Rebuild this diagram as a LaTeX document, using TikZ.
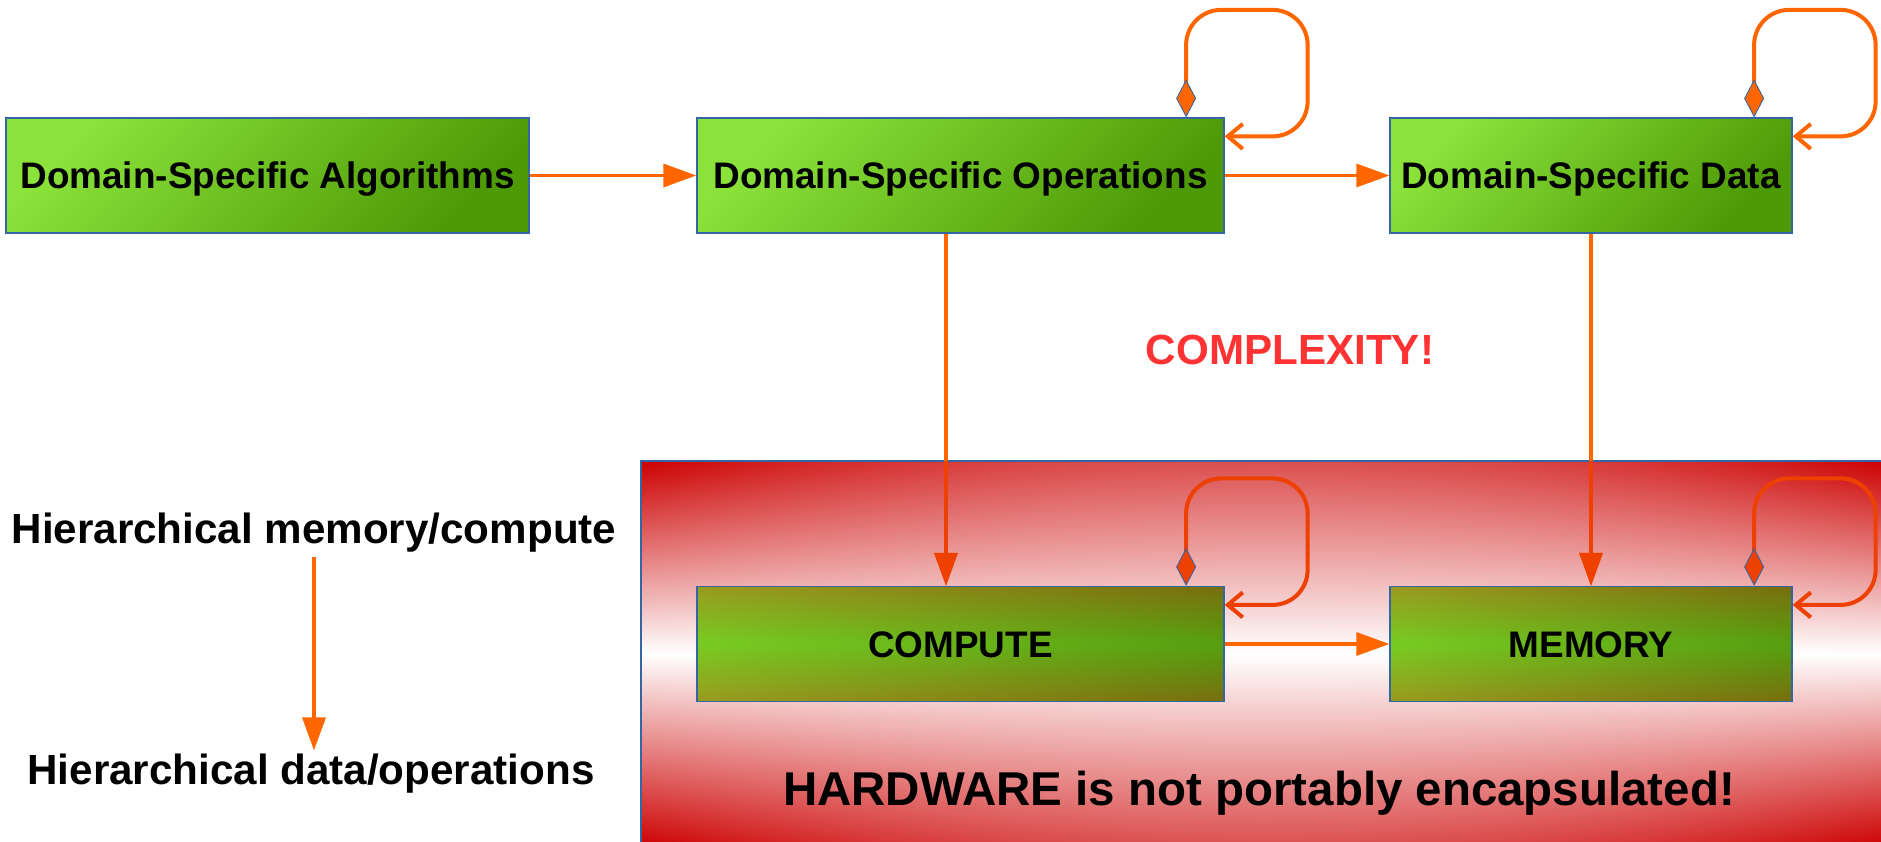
\documentclass[tikz,border=0pt]{standalone}
\usepackage{fontspec}
\setmainfont{Liberation Sans}
\usetikzlibrary{arrows.meta,positioning}
\definecolor{boxline}{HTML}{3465A4}
\definecolor{arrorange}{HTML}{FF6600}
\definecolor{arrred}{HTML}{EE4000}
\definecolor{alarm}{HTML}{FF3333}
\definecolor{grtop}{HTML}{8AE23A}
\definecolor{grbot}{HTML}{4E9A06}
\pgfdeclarefunctionalshading{hwshade}{\pgfpoint{-50bp}{-50bp}}{\pgfpoint{50bp}{50bp}}{}{
  abs 25 div exch abs 25 div dup mul 0.31 mul 0.69 add mul
  dup 1 gt {pop 1} if
  dup 0.2 mul 1 exch sub exch 1 exch sub dup
}
\pgfdeclarefunctionalshading{hwgreen}{\pgfpoint{-50bp}{-50bp}}{\pgfpoint{50bp}{50bp}}{}{
  abs 25 div exch 25 add 50 div
  1 index 0.137 mul 0.467 add 1 index 0.133 mul sub
  2 index 0.196 mul 0.8 exch sub 2 index 0.173 mul sub
  2 index 0.07 mul 0.133 exch sub 4 index 0.01 mul sub
  5 -2 roll pop pop
}

\begin{document}
\begin{tikzpicture}[>={Triangle[length=0.66cm,width=0.46cm]},
 box/.style={draw=boxline, line width=0.7pt, rectangle, minimum height=2.3cm, font=\fontsize{21}{25}\selectfont\bfseries, text height=15pt, text depth=0pt},
 dsbox/.style={box, top color=grtop, bottom color=grbot, shading angle=45},
 hwbox/.style={box, shade, shading=hwgreen},
 arr/.style={->, draw=arrorange, line width=1.9pt},
 selfloop/.style={{Diamond[length=0.76cm,width=0.4cm,line width=0.5pt,color=boxline,fill=#1]}-{Straight Barb[length=0.3cm,width=0.5cm]}, draw=#1, line width=2.3pt, rounded corners=0.7cm},
 lab/.style={font=\fontsize{24}{29}\selectfont\bfseries, inner sep=2pt}]
\useasboundingbox (0,0) rectangle (37.62,-16.84);
\path[shade, shading=hwshade, draw=boxline, line width=0.7pt] (12.82,-9.22) rectangle (37.72,-16.94);
\node[dsbox, minimum width=10.46cm] (alg) at (5.35,-3.51)  {Domain-Specific Algorithms};
\node[dsbox, minimum width=10.54cm] (ops) at (19.21,-3.51) {Domain-Specific Operations};
\node[dsbox, minimum width=8.04cm]  (dat) at (31.82,-3.51) {Domain-Specific Data};
\node[hwbox, minimum width=10.54cm] (comp) at (19.21,-12.88) {COMPUTE};
\node[hwbox, minimum width=8.04cm]  (mem) at (31.82,-12.88)  {MEMORY};
\node[lab, text=alarm] (cplx) at (25.8,-7.0) {COMPLEXITY!};
\node[lab] (hmc) at (6.28,-10.66) {Hierarchical memory/compute};
\node[lab] (hdo) at (6.22,-15.48) {Hierarchical data/operations};
\node[lab, font=\fontsize{27}{32}\selectfont\bfseries] (hwtxt) at (25.18,-15.86) {HARDWARE is not portably encapsulated!};
\draw[arr] (alg) -- (ops);
\draw[arr] (ops) -- (dat);
\draw[arr] (comp) -- (mem);
\draw[arr] ([xshift=-0.29cm]ops.south) -- ([xshift=-0.29cm]comp.north);
\draw[arr] (dat) -- (mem);
\draw[arr] (hmc.south) -- (hmc.south |- hdo.north);
\begin{scope}
\clip (12.82,-9.22) rectangle (38,-17.2);
\draw[arr, draw=arrred] ([xshift=-0.29cm]ops.south) -- ([xshift=-0.29cm]comp.north);
\draw[arr, draw=arrred] (dat) -- (mem);
\end{scope}
\foreach \b/\c in {ops/arrorange, dat/arrorange, comp/arrred, mem/arrred} {
  \draw[selfloop=\c] ([xshift=-0.77cm]\b.north east) -- ++(0,2.15) -- ++(2.43,0) |- ([yshift=-0.38cm]\b.north east);
}
\end{tikzpicture}
\end{document}
